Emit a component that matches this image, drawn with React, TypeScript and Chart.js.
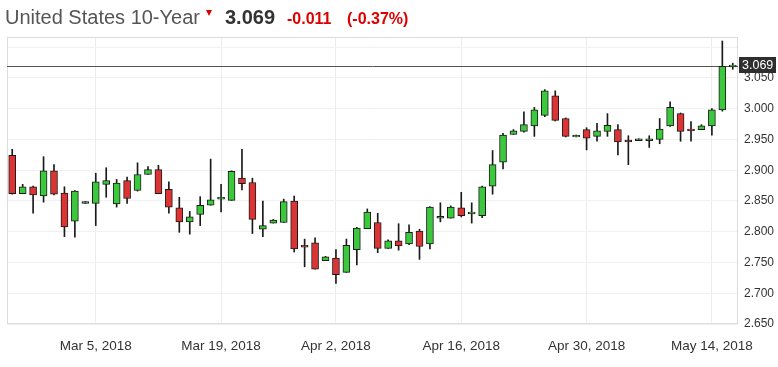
import React, { useEffect, useRef } from 'react';
import { Chart, registerables } from 'chart.js';

Chart.register(...registerables);

// Trading sessions (investing.com style, incl. Sunday sessions)
const DATES = [
  'Feb 23', 'Feb 25', 'Feb 26', 'Feb 27', 'Feb 28', 'Mar 1', 'Mar 2', 'Mar 4', 'Mar 5', 'Mar 6',
  'Mar 7', 'Mar 8', 'Mar 9', 'Mar 11', 'Mar 12', 'Mar 13', 'Mar 14', 'Mar 15', 'Mar 16', 'Mar 18',
  'Mar 19', 'Mar 20', 'Mar 21', 'Mar 22', 'Mar 23', 'Mar 25', 'Mar 26', 'Mar 27', 'Mar 28', 'Mar 29',
  'Apr 1', 'Apr 2', 'Apr 3', 'Apr 4', 'Apr 5', 'Apr 6', 'Apr 8', 'Apr 9', 'Apr 10', 'Apr 11',
  'Apr 12', 'Apr 13', 'Apr 15', 'Apr 16', 'Apr 17', 'Apr 18', 'Apr 19', 'Apr 20', 'Apr 22', 'Apr 23',
  'Apr 24', 'Apr 25', 'Apr 26', 'Apr 27', 'Apr 29', 'Apr 30', 'May 1', 'May 2', 'May 3', 'May 4',
  'May 6', 'May 7', 'May 8', 'May 9', 'May 10', 'May 11', 'May 13', 'May 14', 'May 15', 'May 16',
];

const OPEN = [
  2.924, 2.862, 2.873, 2.858, 2.899, 2.863, 2.817, 2.846, 2.846, 2.877,
  2.845, 2.883, 2.867, 2.893, 2.901, 2.869, 2.839, 2.816, 2.828, 2.843,
  2.853, 2.851, 2.887, 2.880, 2.804, 2.814, 2.815, 2.850, 2.778, 2.782,
  2.753, 2.757, 2.734, 2.771, 2.805, 2.815, 2.773, 2.785, 2.780, 2.801,
  2.780, 2.822, 2.822, 2.839, 2.829, 2.826, 2.874, 2.913, 2.958, 2.963,
  2.972, 2.989, 3.021, 2.984, 2.954, 2.966, 2.955, 2.963, 2.966, 2.949,
  2.948, 2.948, 2.950, 2.972, 2.992, 2.967, 2.966, 2.972, 2.998, 3.068,
];

const HIGH = [
  2.934, 2.877, 2.874, 2.922, 2.909, 2.873, 2.867, 2.849, 2.895, 2.904,
  2.885, 2.889, 2.912, 2.906, 2.908, 2.881, 2.856, 2.833, 2.857, 2.918,
  2.877, 2.899, 2.934, 2.887, 2.850, 2.820, 2.853, 2.858, 2.788, 2.790,
  2.760, 2.771, 2.788, 2.807, 2.837, 2.830, 2.787, 2.813, 2.811, 2.804,
  2.841, 2.847, 2.842, 2.864, 2.847, 2.874, 2.932, 2.960, 2.966, 2.995,
  3.002, 3.031, 3.029, 2.985, 2.957, 2.969, 2.976, 2.992, 2.974, 2.956,
  2.951, 2.956, 2.984, 3.011, 2.993, 2.979, 2.974, 3.000, 3.110, 3.074,
];

const LOW = [
  2.861, 2.862, 2.830, 2.848, 2.860, 2.792, 2.791, 2.846, 2.810, 2.856,
  2.840, 2.846, 2.866, 2.893, 2.862, 2.830, 2.799, 2.796, 2.810, 2.843,
  2.832, 2.851, 2.868, 2.797, 2.792, 2.814, 2.815, 2.767, 2.743, 2.739,
  2.753, 2.716, 2.734, 2.746, 2.805, 2.766, 2.773, 2.770, 2.779, 2.755,
  2.772, 2.816, 2.822, 2.824, 2.814, 2.823, 2.861, 2.902, 2.958, 2.962,
  2.955, 2.987, 2.980, 2.954, 2.954, 2.933, 2.947, 2.955, 2.925, 2.909,
  2.948, 2.937, 2.943, 2.971, 2.947, 2.947, 2.966, 2.957, 2.996, 3.064,
];

const CLOSE = [
  2.862, 2.873, 2.860, 2.899, 2.861, 2.808, 2.866, 2.849, 2.881, 2.883,
  2.879, 2.854, 2.893, 2.901, 2.862, 2.840, 2.816, 2.824, 2.843, 2.852,
  2.856, 2.898, 2.878, 2.820, 2.810, 2.819, 2.849, 2.772, 2.775, 2.739,
  2.759, 2.730, 2.778, 2.806, 2.832, 2.773, 2.785, 2.777, 2.799, 2.776,
  2.840, 2.825, 2.840, 2.826, 2.832, 2.873, 2.909, 2.957, 2.964, 2.974,
  2.998, 3.029, 2.981, 2.955, 2.957, 2.952, 2.964, 2.973, 2.946, 2.946,
  2.951, 2.951, 2.967, 3.002, 2.963, 2.964, 2.972, 2.998, 3.069, 3.071,
];

const X_TICK_DATES = ['Mar 5', 'Mar 19', 'Apr 2', 'Apr 16', 'Apr 30', 'May 14'];
const YEAR = '2018';
const Y_TICKS = [2.65, 2.7, 2.75, 2.8, 2.85, 2.9, 2.95, 3.0, 3.05, 3.1];
const Y_LABEL_MAX = 3.05;
const Y_MIN = 2.65;
const Y_MAX = 3.1165;
const LAST = 3.069;
const CHANGE = '-0.011';
const CHANGE_PCT = '(-0.37%)';
const TITLE = 'United States 10-Year';

const GREEN = '#3cc83c';
const RED = '#dc3434';
const FONT = '"Liberation Sans", Arial, Helvetica, sans-serif';

const framePlugin = {
  id: 'frame',
  beforeDatasetsDraw(chart: any) {
    const { ctx, chartArea: a, scales } = chart;
    ctx.save();
    ctx.strokeStyle = '#dcdcdc';
    ctx.lineWidth = 1;
    ctx.strokeRect(a.left + 0.5, a.top + 0.5, a.right - a.left - 1, a.bottom - a.top - 1);
    const y = Math.round(scales.y.getPixelForValue(LAST)) + 0.5;
    ctx.strokeStyle = '#555555';
    ctx.beginPath();
    ctx.moveTo(a.left, y);
    ctx.lineTo(a.right, y);
    ctx.stroke();
    ctx.restore();
  },
  afterDraw(chart: any) {
    const { ctx, chartArea: a, scales } = chart;
    const y = Math.round(scales.y.getPixelForValue(LAST));
    ctx.save();
    ctx.fillStyle = '#2e2e2e';
    ctx.fillRect(a.right + 1, y - 9, 37, 16);
    ctx.fillStyle = '#ffffff';
    ctx.font = `12.5px ${FONT}`;
    ctx.textAlign = 'left';
    ctx.textBaseline = 'middle';
    ctx.fillText(LAST.toFixed(3), a.right + 4, y - 0.5);
    ctx.restore();
  },
};

export default function App() {
  const canvasRef = useRef<HTMLCanvasElement | null>(null);

  useEffect(() => {
    if (!canvasRef.current) return;
    const bodies = OPEN.map((o, i) => [Math.min(o, CLOSE[i]), Math.max(o, CLOSE[i])]);
    const wicks = LOW.map((l, i) => [l, HIGH[i]]);
    const colors = OPEN.map((o, i) => (CLOSE[i] >= o ? GREEN : RED));

    const chart = new Chart(canvasRef.current, {
      type: 'bar',
      data: {
        labels: DATES,
        datasets: [
          {
            data: bodies as any,
            backgroundColor: colors,
            borderColor: '#1a1a1a',
            borderWidth: 1,
            borderSkipped: false,
            barThickness: 7,
            grouped: false,
            order: 0,
          } as any,
          {
            data: wicks as any,
            backgroundColor: '#1a1a1a',
            borderWidth: 0,
            barThickness: 1,
            grouped: false,
            order: 1,
          } as any,
        ],
      },
      options: {
        animation: false,
        responsive: true,
        maintainAspectRatio: false,
        layout: { padding: { top: 37, left: 7, right: 0, bottom: 0 } },
        plugins: { legend: { display: false }, tooltip: { enabled: false } },
        scales: {
          x: {
            type: 'category',
            offset: true,
            grid: {
              offset: false,
              drawTicks: false,
              color: (c: any) =>
                X_TICK_DATES.includes(DATES[c.index]) ? '#ededed' : 'rgba(0,0,0,0)',
            },
            border: { display: false },
            ticks: {
              autoSkip: false,
              maxRotation: 0,
              minRotation: 0,
              padding: 14,
              color: '#333333',
              font: { family: FONT, size: 13.5 },
              callback: (_v: any, i: number) =>
                X_TICK_DATES.includes(DATES[i]) ? `${DATES[i]}, ${YEAR}` : '',
            },
            afterFit: (s: any) => {
              s.height = 43;
              s.paddingLeft = 0;
              s.paddingRight = 0;
            },
          },
          y: {
            position: 'right',
            min: Y_MIN,
            max: Y_MAX,
            afterBuildTicks: (s: any) => {
              s.ticks = Y_TICKS.map((v) => ({ value: v }));
            },
            grid: { color: '#f1f1f1', drawTicks: false },
            border: { display: false },
            ticks: {
              padding: 6,
              color: '#333333',
              font: { family: FONT, size: 12 },
              callback: (v: any) => (Number(v) <= Y_LABEL_MAX + 1e-9 ? Number(v).toFixed(3) : ''),
            },
            afterFit: (s: any) => {
              s.width = 40;
              s.paddingTop = 0;
              s.paddingBottom = 0;
            },
          },
        } as any,
      },
      plugins: [framePlugin],
    });
    return () => chart.destroy();
  }, []);

  const red = '#dd0000';
  return (
    <div
      style={{
        position: 'fixed',
        left: 0,
        top: 0,
        width: 778,
        height: 367,
        background: '#ffffff',
        fontFamily: FONT,
        overflow: 'hidden',
      }}
    >
      <div style={{ position: 'absolute', left: 0, top: 0, width: 778, height: 367 }}>
        <canvas ref={canvasRef} />
      </div>
      <span
        style={{
          position: 'absolute', left: 5, top: 7, fontSize: 20, lineHeight: '20px',
          color: '#555555', whiteSpace: 'nowrap',
        }}
      >
        {TITLE}
      </span>
      <span
        style={{
          position: 'absolute', left: 206, top: 10, width: 0, height: 0,
          borderLeft: '3.5px solid transparent', borderRight: '3.5px solid transparent',
          borderTop: `6px solid ${red}`,
        }}
      />
      <span
        style={{
          position: 'absolute', left: 225, top: 7, fontSize: 20, lineHeight: '20px',
          fontWeight: 'bold', color: '#333333', whiteSpace: 'nowrap',
        }}
      >
        {LAST.toFixed(3)}
      </span>
      <span
        style={{
          position: 'absolute', left: 287, top: 10.5, fontSize: 16, lineHeight: '16px',
          fontWeight: 'bold', color: red, whiteSpace: 'nowrap',
        }}
      >
        {CHANGE}
      </span>
      <span
        style={{
          position: 'absolute', left: 347, top: 10.5, fontSize: 16, lineHeight: '16px',
          fontWeight: 'bold', color: red, whiteSpace: 'nowrap',
        }}
      >
        {CHANGE_PCT}
      </span>
    </div>
  );
}
